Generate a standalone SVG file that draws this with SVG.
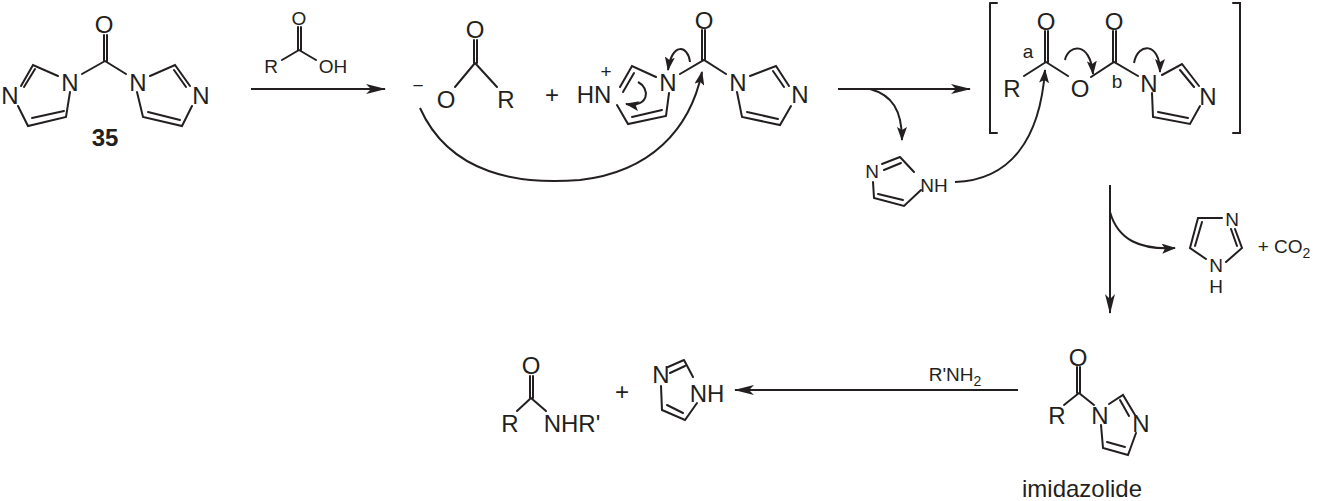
<svg xmlns="http://www.w3.org/2000/svg" width="1323" height="501" viewBox="0 0 1323 501">
<style>
.b{stroke:#231f20;stroke-width:2;fill:none;stroke-linecap:round}
.t{font-family:"Liberation Sans",Arial,sans-serif;font-size:24px;fill:#231f20;text-anchor:middle}
.s{font-size:19px}
.c{stroke:#231f20;stroke-width:2;fill:none}
</style>
<defs>
<marker id="ah" viewBox="0 0 20 10" refX="19" refY="5" markerWidth="20" markerHeight="10" markerUnits="userSpaceOnUse" orient="auto"><path d="M0,0 L20,5 L0,10 L5,5 Z" fill="#231f20"/></marker>
<marker id="am" viewBox="0 0 14 10" refX="13" refY="5" markerWidth="14" markerHeight="10" markerUnits="userSpaceOnUse" orient="auto"><path d="M0,0 L14,5 L0,10 L3,5 Z" fill="#231f20"/></marker>
</defs>
<g id="cdi">
<path class="b" d="M104,35 V61 M107,35 V61 M105,61 L82,74 M105,61 L126,74 M70,92 L66,117 L28,126 L18,106 M21,86 L33,65 L58,76 M24,87 L35,69 M32,118 L64,111 M137,92 L143,117 L182,126 L192,106 M190,86 L175,65 L150,76 M186,87 L174,70 M148,112 L180,120"/>
<text class="t" x="104" y="33">O</text><text class="t" x="70" y="91">N</text><text class="t" x="138" y="91">N</text><text class="t" x="10" y="104">N</text><text class="t" x="201" y="104">N</text>
<text class="t" x="105" y="146" font-weight="bold" font-size="21">35</text>
</g>
<g id="acid">
<path class="b" d="M298,27 V50 M301,27 V50 M299,50 L282,60 M299,50 L316,60"/>
<text class="t s" x="299" y="25">O</text><text class="t s" x="271" y="73">R</text><text class="t s" x="333" y="73">OH</text>
</g>
<g id="carboxylate">
<path class="b" d="M474,40 V63 M477,40 V63 M475,63 L455,87 M475,63 L497,87"/>
<text class="t" x="475" y="38">O</text><text class="t" x="446" y="108">O</text><text class="t" x="506" y="108">R</text><text class="t s" x="418" y="92">−</text>
</g>
<text class="t" x="552" y="103">+</text>
<g id="imidazolium">
<path class="b" d="M620,87 L632,66 L656,77 M623,92 L634,73 M669,93 L666,116 L628,124 L617,105 M632,117 L662,110 M702,30 V60 M705,30 V60 M680,74 L704,60 L726,74 M737,92 L742,117 L780,125 L791,106 M789,86 L776,66 L750,76 M784,87 L773,71 M747,112 L778,119"/>
<text class="t" x="594" y="103">HN</text><text class="t s" x="606" y="78">+</text><text class="t" x="668" y="91">N</text><text class="t" x="704" y="29">O</text><text class="t" x="738" y="91">N</text><text class="t" x="800" y="103">N</text>
</g>
<g id="intermediate">
<path class="b" d="M990,3 H997 M990,3 V133 H997 M1233,3 H1240 V133 H1233 M1045,31 V62 M1048,31 V62 M1046,62 L1024,76 M1046,62 L1068,76 M1091,77 L1114,62 L1138,76 M1113,31 V62 M1116,31 V62 M1152,93 L1153,117 L1190,124 L1200,106 M1199,86 L1182,64 L1162,75 M1194,87 L1180,70 M1158,112 L1188,118"/>
<text class="t" x="1046" y="30">O</text><text class="t" x="1114" y="30">O</text><text class="t" x="1012" y="97">R</text><text class="t" x="1080" y="97">O</text><text class="t" x="1149" y="92">N</text><text class="t" x="1208" y="105">N</text>
<text class="t s" x="1028" y="58">a</text><text class="t s" x="1117" y="88">b</text>
</g>
<g id="imidazole1">
<path class="b" d="M882,164 L900,157 M884,170 L901,163 M900,157 L914,172 M921,190 L904,206 L874,198 L873,182 M878,194 L903,200"/>
<text class="t s" x="872" y="178">N</text><text class="t s" x="934" y="192">NH</text>
</g>
<g id="imidazole2">
<path class="b" d="M1222,218 H1198 L1190,248 L1206,259 M1226,262 L1242,248 L1235,229 M1237,246 L1231,229 M1202,222 L1195,246"/>
<text class="t s" x="1232" y="226">N</text><text class="t s" x="1216" y="272">N</text><text class="t s" x="1216" y="293">H</text>
<text class="t s" x="1284" y="253">+ CO<tspan font-size="14" dy="5">2</tspan></text>
</g>
<g id="imidazolide">
<path class="b" d="M1077,367 V393 M1080,367 V393 M1079,393 L1064,405 M1079,393 L1094,405 M1101,425 L1103,448 L1128,455 L1136,433 M1135,415 L1123,395 L1109,404 M1129,416 L1120,400 M1107,442 L1125,447"/>
<text class="t" x="1078" y="366">O</text><text class="t" x="1057" y="424">R</text><text class="t" x="1100" y="424">N</text><text class="t" x="1141" y="432">N</text>
<text class="t" x="1082" y="497">imidazolide</text>
</g>
<g id="amide">
<path class="b" d="M530,376 V398 M533,376 V398 M531,398 L517,411 M531,398 L546,411"/>
<text class="t" x="531" y="374">O</text><text class="t" x="510" y="432">R</text><text class="t" x="572" y="432">NHR'</text>
</g>
<text class="t" x="622" y="400">+</text>
<g id="imidazole3">
<path class="b" d="M668,367 L684,360 M670,373 L685,366 M684,360 L693,377 M697,403 L685,420 L662,410 L661,386 M667,405 L683,413"/>
<text class="t" x="661" y="383">N</text><text class="t" x="707" y="402">NH</text>
</g>
<g id="connectors">
<path class="c" d="M251,89 H385" marker-end="url(#ah)"/>
<path class="c" d="M838,89 H970" marker-end="url(#ah)"/>
<path class="c" d="M870,89 C892,95 902,110 902,140" marker-end="url(#am)"/>
<path class="c" d="M1110,185 V313" marker-end="url(#ah)"/>
<path class="c" d="M1110,212 C1118,240 1140,250 1175,248" marker-end="url(#am)"/>
<path class="c" d="M1018,390 H735" marker-end="url(#ah)"/>
<text class="t s" x="955" y="381">R'NH<tspan font-size="14" dy="5">2</tspan></text>
<path class="c" d="M420,108 C450,175 520,185 580,180 C650,172 690,130 702,72" marker-end="url(#am)"/>
<path class="c" d="M955,182 C1010,180 1040,140 1045,70" marker-end="url(#am)"/>
<path class="c" d="M690,62 C688,45 672,42 668,70" marker-end="url(#am)"/>
<path class="c" d="M638,82 C650,88 650,108 626,104" marker-end="url(#am)"/>
<path class="c" d="M1065,60 C1068,45 1090,40 1093,74" marker-end="url(#am)"/>
<path class="c" d="M1134,63 C1138,42 1160,42 1160,72" marker-end="url(#am)"/>
</g>
</svg>
